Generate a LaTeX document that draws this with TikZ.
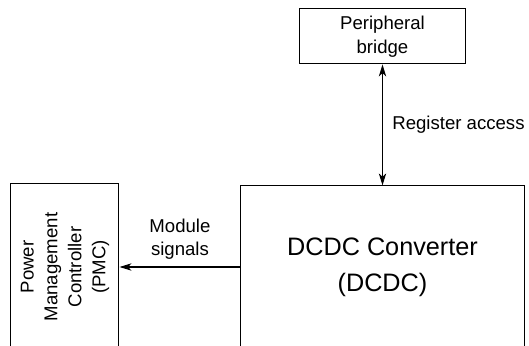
\documentclass[tikz,border=0pt]{standalone}
\usepackage{fontspec}
\setmainfont{Liberation Sans}
\usepackage{tikz}
\usetikzlibrary{arrows.meta,positioning}
\tikzset{
	block/.style = {draw, rectangle, align = center, line width = 0.8pt},
	signal/.style = {draw, line width = 0.8pt},
	labeltext/.style = {font = \fontsize{14}{18}\selectfont},
}

\begin{document}
\begin{tikzpicture}[node distance = 3.2cm, >={Stealth[length=9pt,width=5.5pt,inset=2.5pt]}]
        \useasboundingbox (-10.121,-2.064) rectangle (3.876,7.065);
        \clip (-10.121,-2.064) rectangle (3.876,7.065);
        \node (dcdc) at (0,0) [block, minimum width = 7.49cm, minimum height = 4.29cm, font = \fontsize{19}{27}\selectfont] {DCDC Converter \\ (DCDC)};
        \node (bridge) [block, labeltext, minimum width = 4.39cm, minimum height = 1.455cm, above=of dcdc] {Peripheral \\ bridge};
        \node (pmc) [block, labeltext, rotate = 90, minimum width = 4.43cm, minimum height = 2.858cm, left=of dcdc, anchor = south] {Power \\ Management \\ Controller \\ (PMC)};
        \path [signal, <->] (bridge) -- node [auto, labeltext, inner sep = 7pt] {Register access} (dcdc);
        \path [signal, ->] (dcdc) -- node [above, labeltext, align = center, inner sep = 5pt] {Module \\ signals} (pmc);
    \end{tikzpicture}
\end{document}
